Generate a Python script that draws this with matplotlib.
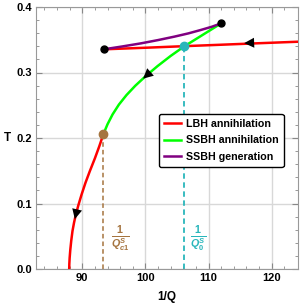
import numpy as np
import matplotlib
matplotlib.use("Agg")
import matplotlib.pyplot as plt

plt.rcParams['font.family'] = ['Liberation Sans', 'DejaVu Sans']
plt.rcParams['mathtext.fontset'] = 'custom'
plt.rcParams['mathtext.rm'] = 'Liberation Sans:bold'
plt.rcParams['mathtext.it'] = 'Liberation Sans:italic:bold'
plt.rcParams['mathtext.bf'] = 'Liberation Sans:bold'

# curves (x = 1/Q, y = T)
lbh_upper_x = [93.4, 100.0, 106.16, 112.0, 118.0, 124.2]
lbh_upper_T = [0.3354, 0.3378, 0.3402, 0.3424, 0.3447, 0.3470]
lbh_lower_x = [87.93, 87.95, 88.0, 88.1, 88.25, 88.45, 88.7, 89.0, 89.4, 89.9,
               90.5, 91.2, 92.0, 92.7, 93.35]
lbh_lower_T = [0.0, 0.008, 0.017, 0.029, 0.043, 0.058, 0.071, 0.084, 0.098, 0.114,
               0.1315, 0.1495, 0.169, 0.1875, 0.2061]
ssbh_ann_x = [93.35, 94.0, 94.8, 95.8, 97.0, 98.4, 100.0, 101.9, 104.0, 106.16, 108.8, 112.0]
ssbh_ann_T = [0.2061, 0.221, 0.236, 0.251, 0.2655, 0.2798, 0.2941, 0.3096, 0.3253,
              0.3400, 0.3558, 0.375]
ssbh_gen_x = [93.4, 96.3, 99.3, 102.0, 104.57, 106.8, 108.8, 110.5, 112.0]
ssbh_gen_T = [0.3354, 0.3397, 0.3445, 0.3495, 0.3547, 0.3597, 0.365, 0.3698, 0.375]

end_points_x = [93.4, 112.0]
end_points_T = [0.3354, 0.375]
qc1_x, qc1_T = 93.35, 0.2061
q0_x, q0_T = 106.16, 0.3401

# arrows: (from, to)
arrows = [((117.2, 0.3454), (115.2, 0.3447)),
          ((101.0, 0.3024), (99.3, 0.2878)),
          ((89.1, 0.0875), (88.72, 0.072))]

labels = ['LBH annihilation', 'SSBH annihilation', 'SSBH generation']
brown = '#a5743f'
cyan = '#29b6bb'

fig = plt.figure(figsize=(3.0, 3.05), dpi=100)
ax = fig.add_axes([36/300, 36/305, 262/300, 262/305])

ax.plot([qc1_x, qc1_x], [0, qc1_T], color=brown, lw=1.1, ls=(0, (3, 2)), zorder=2)
ax.plot([q0_x, q0_x], [0, q0_T], color=cyan, lw=1.3, ls=(0, (3, 2)), zorder=2)

ax.plot(lbh_upper_x, lbh_upper_T, color='#ff0000', lw=1.8, label=labels[0], zorder=3)
ax.plot(lbh_lower_x, lbh_lower_T, color='#ff0000', lw=1.8, zorder=3)
ax.plot(ssbh_ann_x, ssbh_ann_T, color='#00ff00', lw=1.8, label=labels[1], zorder=3)
ax.plot(ssbh_gen_x, ssbh_gen_T, color='#800080', lw=1.8, label=labels[2], zorder=3)

for (x0, y0), (x1, y1) in arrows:
    ax.annotate('', xy=(x1, y1), xytext=(x0, y0),
                arrowprops=dict(arrowstyle='-|>,head_length=0.6,head_width=0.3',
                                color='k', lw=0, mutation_scale=12), zorder=4)

ax.plot(end_points_x, end_points_T, 'o', color='k', ms=5, zorder=5)
ax.plot([qc1_x], [qc1_T], 'o', color=brown, ms=6, zorder=5)
ax.plot([q0_x], [q0_T], 'o', color=cyan, ms=6, zorder=5)

ax.text(96.07, 0.045, r'$\frac{1}{Q^{S}_{c1}}$', color=brown, fontsize=11,
        ha='center', va='center')
ax.text(108.4, 0.045, r'$\frac{1}{Q^{S}_{0}}$', color=cyan, fontsize=11,
        ha='center', va='center')

ax.set_xlim(82.67, 124.17)
ax.set_ylim(0, 0.4)
ax.set_xticks([90, 100, 110, 120])
ax.set_xticks(np.arange(84, 124, 2), minor=True)
ax.set_yticks([0.0, 0.1, 0.2, 0.3, 0.4])
ax.set_yticks(np.arange(0, 0.4, 0.02), minor=True)
ax.set_yticklabels(['0.0', '0.1', '0.2', '0.3', '0.4'])
ax.grid(True, which='major', color='#d8d8d8', lw=1.0)
ax.set_axisbelow(True)
ax.tick_params(which='both', direction='in', top=True, right=True, colors='#888888',
               labelcolor='black', labelsize=8, pad=3)
ax.tick_params(which='major', length=4)
ax.tick_params(which='minor', length=2)
for lab in ax.get_xticklabels() + ax.get_yticklabels():
    lab.set_fontweight('bold')
for s in ax.spines.values():
    s.set_color('#999999')

fig.text(7/300, 1 - 138/305, 'T', fontsize=8.5, fontweight='bold', ha='center', va='center')
fig.text(167/300, 1 - 297/305, '1/Q', fontsize=8.5, fontweight='bold', ha='center', va='center')

leg = ax.legend(loc='upper left', bbox_to_anchor=(0.469, 0.592), borderaxespad=0,
                fontsize=7.7, handlelength=1.6, handletextpad=0.5, labelspacing=0.62,
                fancybox=True, framealpha=1, edgecolor='black', borderpad=0.45)
leg.get_frame().set_linewidth(1.0)
for t in leg.get_texts():
    t.set_fontweight('bold')

fig.savefig('out.png', dpi=100)
